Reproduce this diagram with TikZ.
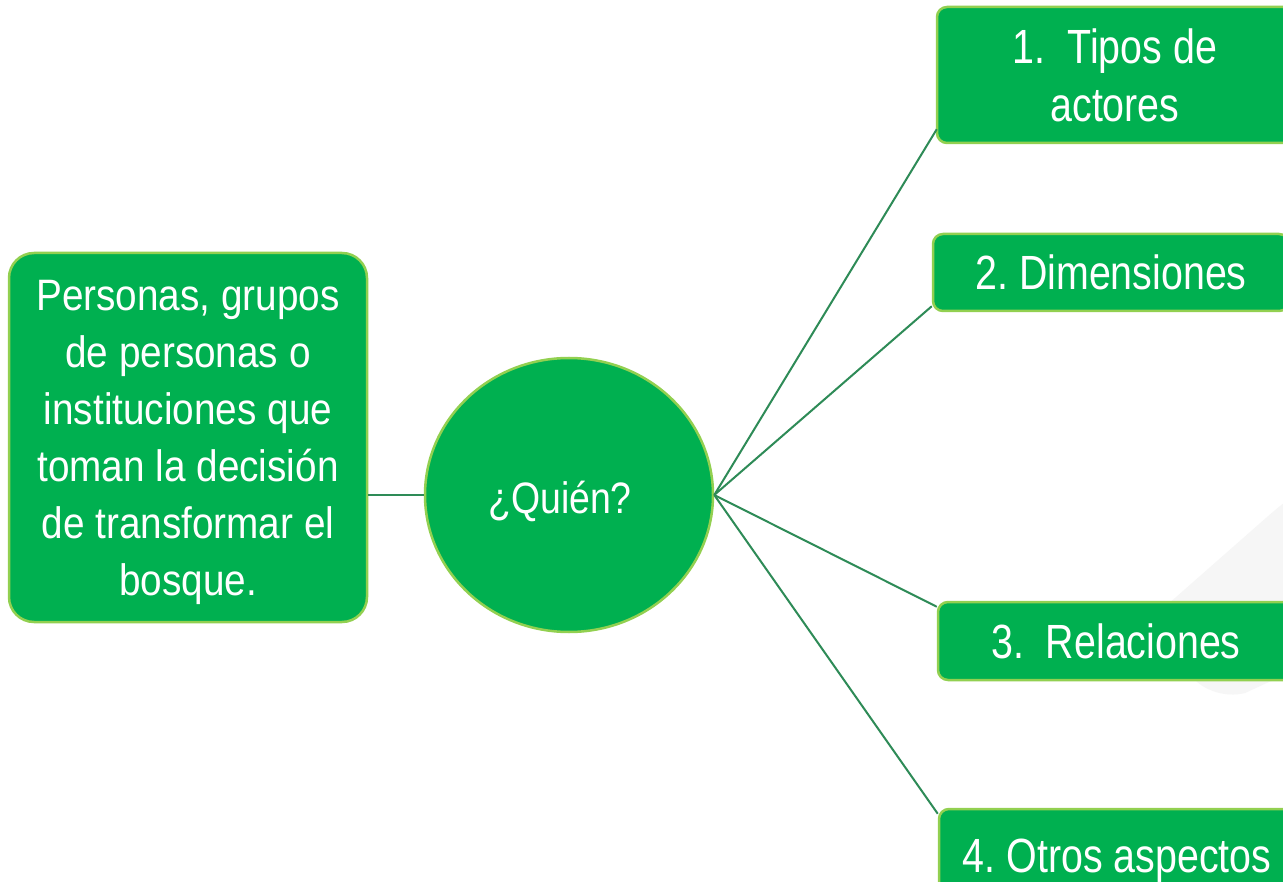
\documentclass[tikz,border=0pt]{standalone}
\usepackage{fontspec}
\setmainfont{Liberation Sans}
\newfontfamily\narrowA[FakeStretch=0.82]{Liberation Sans}
\newfontfamily\narrowB[FakeStretch=0.88]{Liberation Sans}
\newfontfamily\narrowC[FakeStretch=0.85]{Liberation Sans}
\usetikzlibrary{shapes.geometric,calc}
\definecolor{boxgreen}{RGB}{0,176,80}
\definecolor{rimgreen}{RGB}{146,208,80}
\definecolor{linkgreen}{RGB}{46,139,87}
\definecolor{shadegrey}{RGB}{246,246,246}
\frenchspacing
\tikzset{
  topicbox/.style={draw=rimgreen, line width=2.5pt, fill=boxgreen, rounded corners=10pt,
    text=white, inner sep=0pt, minimum width=356pt, align=center,
    font=\narrowA\fontsize{48}{58}\selectfont},
  link/.style={draw=linkgreen, line width=2pt},
}
\begin{document}
\begin{tikzpicture}[x=1pt,y=-1pt]
\useasboundingbox (0,0) rectangle (1283,882);
\fill[white] (0,0) rectangle (1283,882);
\clip (0,0) rectangle (1283,882);
% faint background shape
\fill[shadegrey] (1150,620) -- (1258,525) .. controls (1275,510) and (1283,503) .. (1295,495)
  -- (1295,670) -- (1245,693) .. controls (1225,698) and (1205,690) .. (1195,680) -- cycle;
% left description box
\node[draw=rimgreen, line width=2.5pt, fill=boxgreen, rounded corners=25pt,
  minimum width=358pt, minimum height=369pt, inner sep=0pt, text=white, align=center,
  text depth=0pt, font=\narrowB\fontsize{44}{57}\selectfont] (who) at (188,437.5)
  {Personas, grupos\\de personas o\\instituciones que\\toman la decisión\\de transformar el\\bosque.};
% central circle
\node[ellipse, draw=rimgreen, line width=2.5pt, fill=boxgreen, minimum width=288pt,
  minimum height=274pt, inner sep=0pt] (hub) at (569,495) {};
\node[text=white, font=\narrowC\fontsize{44}{52}\selectfont, anchor=base, inner sep=0pt]
  (hubtext) at (560,513) {¿Quién?};
% topic boxes
\node[topicbox, minimum height=136pt] (t1) at (1115,75) {1.\ \ Tipos de\\actores};
\node[topicbox, minimum height=77pt] (t2) at (1111,272.5) {2. Dimensiones};
\node[topicbox, minimum height=78pt] (t3) at (1116,641) {3.\ \ Relaciones};
\node[topicbox, minimum height=94pt, text depth=0pt] (t4) at (1117,856) {4. Otros aspectos};
% connectors
\draw[link] (hub.west) -- (hub.west -| who.east);
\draw[link] (hub.east) -- ($(t1.south west)+(1,-15)$);
\draw[link] (hub.east) -- ($(t2.south west)+(0,-6)$);
\draw[link] (hub.east) -- ($(t3.north west)+(0,6)$);
\draw[link] (hub.east) -- ($(t4.north west)+(0,6)$);
\end{tikzpicture}
\end{document}
